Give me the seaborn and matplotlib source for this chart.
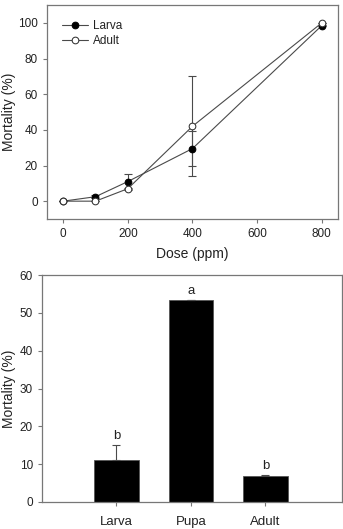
import numpy as np
import pandas as pd
import matplotlib
matplotlib.use("Agg")
import matplotlib.pyplot as plt
import seaborn as sns

# dose-response data
dose = [0, 100, 200, 400, 800]
larva_mort = [0, 2.5, 11, 29.5, 98.5]
larva_err = [0, 1.0, 4.0, 10.0, 0.5]
adult_mort = [0, 0, 7, 42, 100]
adult_err = [0, 0, 0.5, 28.0, 0]

# stage comparison data
stages = ['Larva', 'Pupa', 'Adult']
stage_mort = [11.2, 53.3, 6.8]
stage_err = [3.8, 0, 0.3]
stage_letters = ['b', 'a', 'b']

sns.set_theme(style='ticks')
plt.rcParams['font.family'] = ['Liberation Sans', 'DejaVu Sans']
plt.rcParams['axes.edgecolor'] = '#777777'
plt.rcParams['xtick.color'] = '#777777'
plt.rcParams['ytick.color'] = '#777777'
plt.rcParams['xtick.labelcolor'] = '#222222'
plt.rcParams['ytick.labelcolor'] = '#222222'
plt.rcParams['axes.linewidth'] = 0.9

fig = plt.figure(figsize=(3.43, 5.29), dpi=100)
ax1 = fig.add_axes([47 / 343, 1 - 219 / 529, 291 / 343, 214 / 529])
ax2 = fig.add_axes([42 / 343, 1 - 502 / 529, 300 / 343, 227 / 529])

df = pd.DataFrame({
    'Dose': dose * 2,
    'Mortality': larva_mort + adult_mort,
    'Stage': ['Larva'] * len(dose) + ['Adult'] * len(dose),
})

line_col = '#4a4a4a'
# error bars first, under the markers
ax1.errorbar(dose, larva_mort, yerr=larva_err, fmt='none', ecolor=line_col,
             elinewidth=0.8, capsize=3, capthick=0.8, zorder=1)
ax1.errorbar(dose, adult_mort, yerr=adult_err, fmt='none', ecolor=line_col,
             elinewidth=0.8, capsize=3, capthick=0.8, zorder=1)
sns.lineplot(data=df[df.Stage == 'Larva'], x='Dose', y='Mortality', ax=ax1,
             color=line_col, lw=0.8, marker='o', markersize=4.8,
             markerfacecolor='black', markeredgecolor='black', label='Larva', zorder=3)
sns.lineplot(data=df[df.Stage == 'Adult'], x='Dose', y='Mortality', ax=ax1,
             color=line_col, lw=0.8, marker='o', markersize=4.8,
             markerfacecolor='white', markeredgecolor='#333333', label='Adult', zorder=3)

ax1.set_xlim(-50, 850)
ax1.set_ylim(-10, 110)
ax1.set_xticks([0, 200, 400, 600, 800])
ax1.set_yticks([0, 20, 40, 60, 80, 100])
ax1.set_xlabel('Dose (ppm)', fontsize=10, color='#222222', labelpad=5)
ax1.set_ylabel('Mortality (%)', fontsize=10, color='#222222')
ax1.yaxis.set_label_coords(-31 / 291, 0.5)
ax1.tick_params(labelsize=8.5, length=3, width=0.8, direction='out')
leg = ax1.legend(loc='upper left', frameon=False, fontsize=8.5, handlelength=2.2,
                 handletextpad=0.4, labelspacing=0.25, borderaxespad=0.9)
for t in leg.get_texts():
    t.set_color('#222222')

sns.barplot(x=stages, y=stage_mort, ax=ax2, color='black', width=0.6,
            saturation=1, edgecolor='#555555', linewidth=0.6)
ax2.errorbar(range(len(stages)), stage_mort, yerr=[[0] * 3, stage_err], fmt='none',
             ecolor=line_col, elinewidth=0.8, capsize=3, capthick=0.8)
for i, (v, e, l) in enumerate(zip(stage_mort, stage_err, stage_letters)):
    ax2.text(i, v + e + 0.8, l, ha='center', va='bottom', fontsize=9.5, color='#222222')

ax2.set_xlim(-1, 3.03)
ax2.set_ylim(0, 60)
ax2.set_yticks([0, 10, 20, 30, 40, 50, 60])
ax2.set_ylabel('Mortality (%)', fontsize=10, color='#222222')
ax2.yaxis.set_label_coords(-26 / 300, 0.5)
ax2.set_xlabel('')
ax2.tick_params(labelsize=8.5, length=3, width=0.8, direction='out')
ax2.tick_params(axis='x', labelsize=9.5, pad=7)

for a in (ax1, ax2):
    for s in a.spines.values():
        s.set_visible(True)
        s.set_color('#777777')

fig.savefig('out.png', dpi=100)
